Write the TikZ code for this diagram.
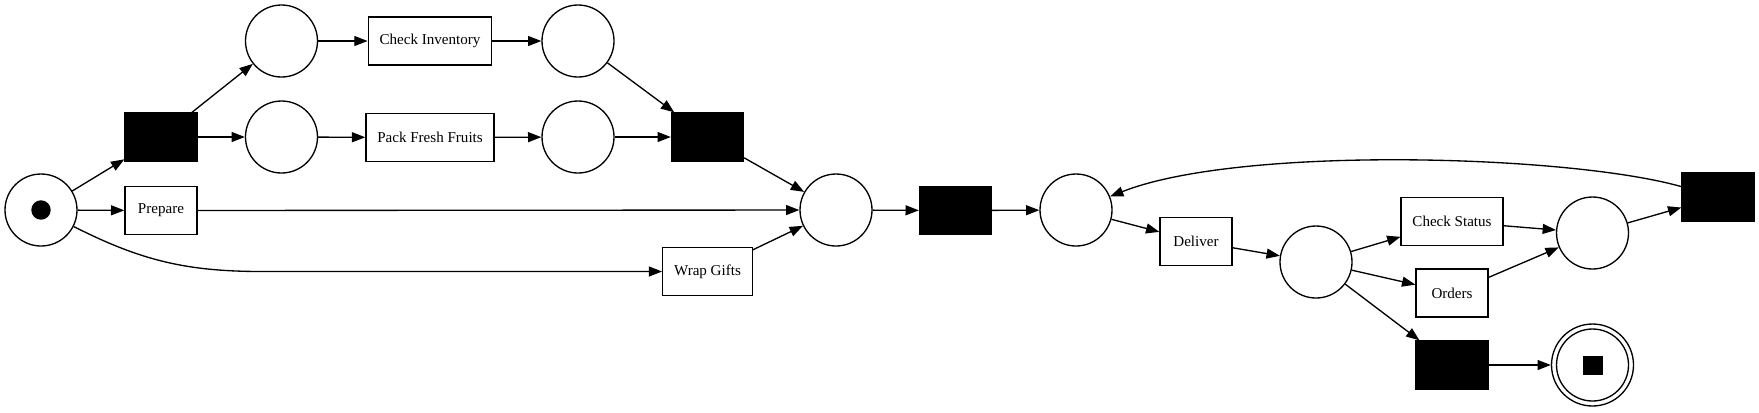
\documentclass[tikz,border=0pt]{standalone}
\usepackage{fontspec}
\setmainfont{Liberation Serif}
\usetikzlibrary{arrows.meta}

\tikzset{every picture/.style={line width=1pt}}
\tikzset{
  place/.style={draw, circle, minimum size=54pt, inner sep=0pt},
  silent/.style={draw, fill=black, minimum width=54pt, minimum height=36pt, inner sep=0pt},
  task/.style={draw, minimum width=54pt, minimum height=36pt, inner xsep=8.5pt, inner ysep=0pt, font=\fontsize{11.3}{13}\selectfont},
  arc/.style={-{Triangle[length=10pt,width=7.5pt]}},
}

\begin{document}
\begin{tikzpicture}[x=0.75pt,y=0.75pt,yscale=-1,xscale=1]
    \useasboundingbox (0,0) rectangle (1759,412);

    %Places
    \node [place] (start) at (41,210) {};
    \fill (start.center) circle [radius=7.3pt];
    \node [place] (pInvIn) at (281.5,41) {};
    \node [place] (pInvOut) at (578,41) {};
    \node [place] (pPackIn) at (281.5,137) {};
    \node [place] (pPackOut) at (578,137) {};
    \node [place] (pReady) at (836,210) {};
    \node [place] (pLoop) at (1076,210) {};
    \node [place] (pDelivered) at (1316,262) {};
    \node [place] (pChecked) at (1592.5,233) {};
    \node [place, minimum size=61.5pt] (end) at (1592.5,365) {};
    \draw (end.center) circle [radius=27pt];
    \fill (end.center) ++(-10,-9.5) rectangle ++(20,19);

    %Silent transitions
    \node [silent] (tSplit) at (161,137) {};
    \node [silent] (tJoin) at (707.5,137) {};
    \node [silent] (tDispatch) at (955.5,210.5) {};
    \node [silent] (tRetry) at (1718,197) {};
    \node [silent] (tFinish) at (1452,365) {};

    % Text Node
    \node [task] (prepare) at (161,210.5) {Prepare};
    % Text Node
    \node [task] (checkInv) at (430,41) {Check Inventory};
    % Text Node
    \node [task] (packFruits) at (430,137.5) {Pack Fresh Fruits};
    % Text Node
    \node [task] (wrapGifts) at (707.5,271.5) {Wrap Gifts};
    % Text Node
    \node [task] (deliver) at (1196,241.5) {Deliver};
    % Text Node
    \node [task] (checkStatus) at (1452,221.5) {Check Status};
    % Text Node
    \node [task] (orders) at (1452,293) {Orders};

    %Straight Lines
    \draw [arc] (start) -- (tSplit);
    \draw [arc] (start) -- (prepare);
    \draw [arc] (tSplit) -- (pInvIn);
    \draw [arc] (tSplit) -- (pPackIn);
    \draw [arc] (pInvIn) -- (checkInv);
    \draw [arc] (checkInv) -- (pInvOut);
    \draw [arc] (pPackIn) -- (packFruits);
    \draw [arc] (packFruits) -- (pPackOut);
    \draw [arc] (pInvOut) -- (tJoin);
    \draw [arc] (pPackOut) -- (tJoin);
    \draw [arc] (tJoin) -- (pReady);
    \draw [arc] (prepare) -- (pReady);
    \draw [arc] (wrapGifts) -- (pReady);
    \draw [arc] (pReady) -- (tDispatch);
    \draw [arc] (tDispatch) -- (pLoop);
    \draw [arc] (pLoop) -- (deliver);
    \draw [arc] (deliver) -- (pDelivered);
    \draw [arc] (pDelivered) -- (checkStatus);
    \draw [arc] (pDelivered) -- (orders);
    \draw [arc] (pDelivered) -- (tFinish);
    \draw [arc] (checkStatus) -- (pChecked);
    \draw [arc] (orders) -- (pChecked);
    \draw [arc] (pChecked) -- (tRetry);
    \draw [arc] (tFinish) -- (end);

    %Curve Lines
    \draw [arc] (start) .. controls (140,260) and (185,271.5) .. (262,271.5) -- (wrapGifts);
    \draw [arc] (tRetry) .. controls (1570,155) and (1240,145) .. (pLoop);
\end{tikzpicture}
\end{document}
